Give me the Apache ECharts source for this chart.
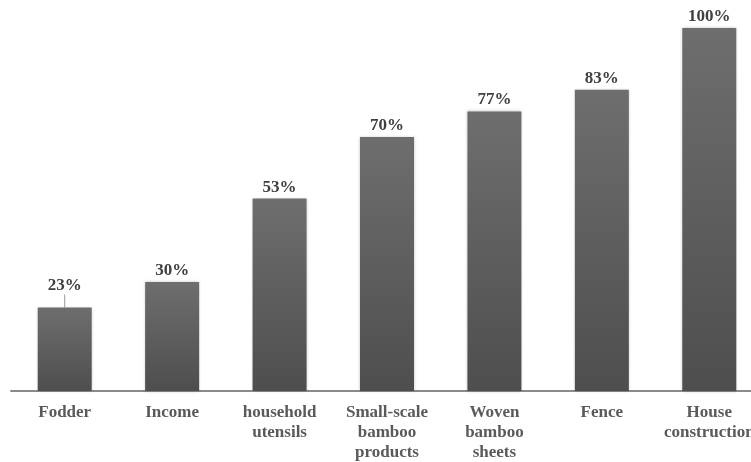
<!DOCTYPE html>
<html>
<head>
<meta charset="utf-8">
<script src="https://cdn.jsdelivr.net/npm/echarts@6/dist/echarts.min.js"></script>
<style>
  html, body { margin: 0; padding: 0; background: #fff; }
  #chart { width: 751px; height: 462px; }
</style>
</head>
<body>
<div id="chart"></div>
<script>
const categories = [
  "Fodder",
  "Income",
  "household\nutensils",
  "Small-scale\nbamboo\nproducts",
  "Woven\nbamboo\nsheets",
  "Fence",
  "House\nconstruction",
];
const values = [23, 30, 53, 70, 77, 83, 100];

const myChart = echarts.init(document.getElementById("chart"));

// only the Fodder label is lifted with a leader line
const seriesData = values.map((v, i) =>
  i === 0 ? { value: v, labelLine: { show: true } } : v
);

myChart.setOption({
  animation: false,
  grid: {
    left: 11,
    right: -12,
    top: 28,
    bottom: 71,
    outerBoundsMode: "none",
  },
  xAxis: {
    type: "category",
    data: categories,
    axisLine: { lineStyle: { color: "#8a8a8a", width: 2 } },
    axisTick: { show: false },
    axisLabel: {
      interval: 0,
      margin: 12,
      fontFamily: "'Liberation Serif', serif",
      fontWeight: "bold",
      fontSize: 17,
      lineHeight: 20,
      color: "#5a5a5a",
    },
  },
  yAxis: { type: "value", min: 0, max: 100, show: false },
  series: [
    {
      type: "bar",
      data: seriesData,
      barWidth: 54,
      itemStyle: {
        color: new echarts.graphic.LinearGradient(0, 0, 0, 1, [
          { offset: 0, color: "#6e6e6e" },
          { offset: 1, color: "#4e4e4e" },
        ]),
        shadowColor: "rgba(0,0,0,0.25)",
        shadowBlur: 3,
      },
      label: {
        show: true,
        position: "top",
        distance: 3,
        formatter: "{c}%",
        fontFamily: "'Liberation Serif', serif",
        fontWeight: "bold",
        fontSize: 17,
        color: "#404040",
      },
      labelLayout: function (params) {
        if (params.dataIndex === 0) return { dy: -10 };
      },
      labelLine: { show: false, lineStyle: { color: "#9a9a9a", width: 1 } },
    },
  ],
});
</script>
</body>
</html>
